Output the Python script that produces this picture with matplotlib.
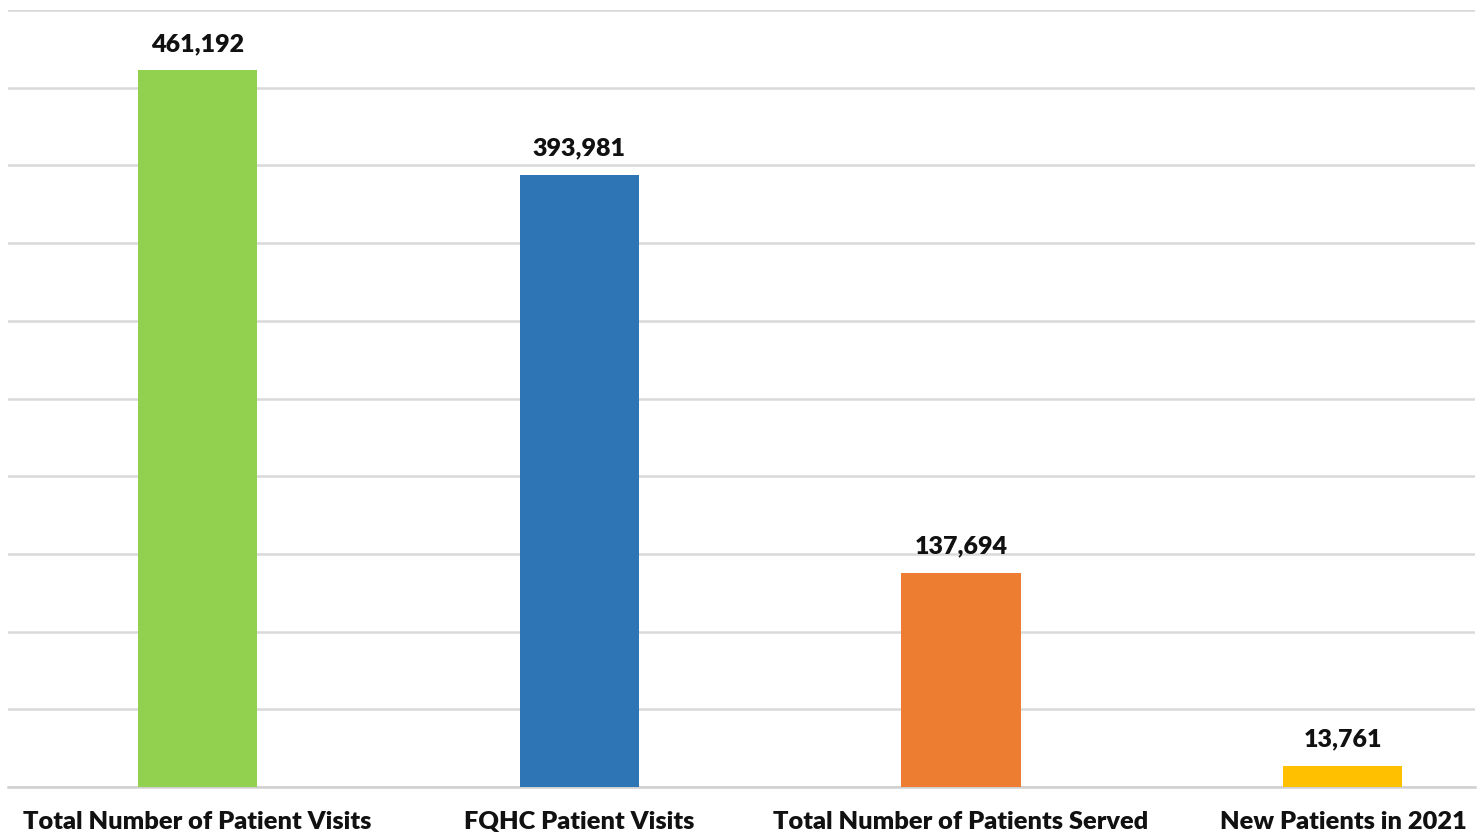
import matplotlib.pyplot as plt

categories = ["Total Number of Patient Visits", "FQHC Patient Visits",
              "Total Number of Patients Served", "New Patients in 2021"]
values = [461192, 393981, 137694, 13761]
colors = ["#92D050", "#2E75B6", "#ED7D31", "#FFC000"]

plt.rcParams['font.family'] = ['Lato', 'DejaVu Sans']

fig = plt.figure(figsize=(14.84, 8.35), dpi=100)
ax = fig.add_axes([8 / 1484, 48 / 835, 1467 / 1484, 777 / 835])

x = list(range(len(categories)))
ax.bar(x, values, width=0.312, color=colors, zorder=3)

for xi, v in zip(x, values):
    ax.annotate(f"{v:,}", (xi, v), xytext=(0, 11), textcoords="offset points",
                ha="center", va="bottom", fontsize=18, fontweight="heavy", color="#111111")

ax.set_xlim(-0.496, 3.346)
ax.set_ylim(0, 500000)
ax.set_yticks(range(0, 500001, 50000))
ax.yaxis.grid(True, color="#d9d9d9", linewidth=1.8, zorder=0)
ax.tick_params(axis="y", left=False, labelleft=False)
ax.tick_params(axis="x", bottom=False, pad=14)
ax.set_xticks(x)
ax.set_xticklabels(categories, fontsize=18.3, fontweight="heavy", color="#111111")
for s in ["top", "left", "right"]:
    ax.spines[s].set_visible(False)
ax.spines["bottom"].set_color("#d0d0d0")
ax.spines["bottom"].set_linewidth(1.8)

fig.savefig("out.png", dpi=100)
